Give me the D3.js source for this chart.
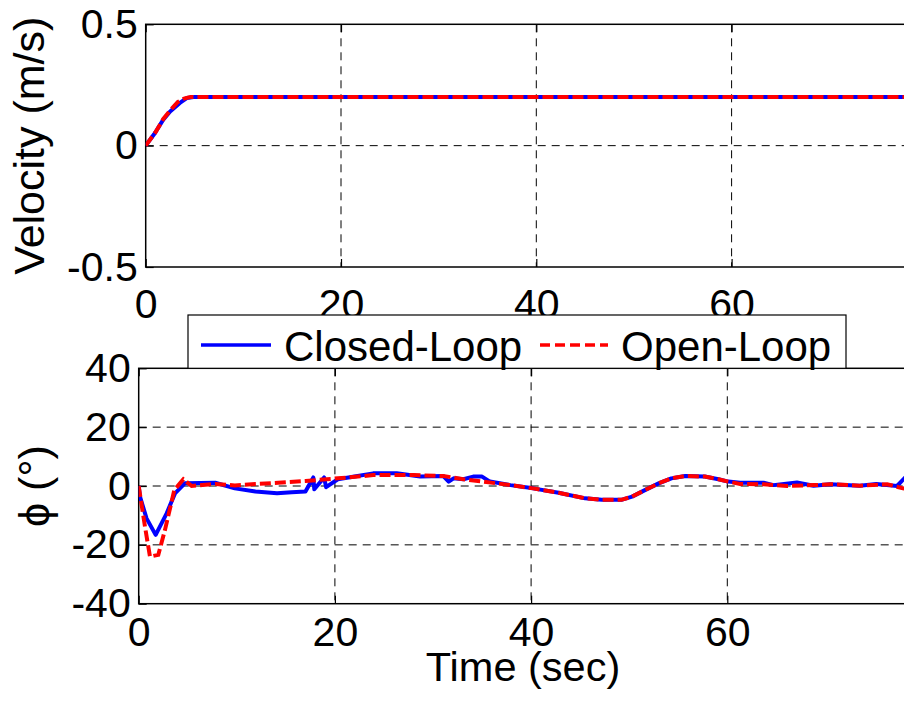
<!DOCTYPE html>
<html><head><meta charset="utf-8">
<script src="https://cdn.jsdelivr.net/npm/d3@7"></script>
<style>
body{margin:0;background:#fff}
text{font-family:"Liberation Sans",Arial,Helvetica,sans-serif;fill:#000}
</style>
</head><body>
<svg id="c" width="904" height="702"></svg>
<script>
// ---- data ----
const seriesNames = ["Closed-Loop", "Open-Loop"];
const xTicks = [0, 20, 40, 60];
const velTicks = [-0.5, 0, 0.5];
const phiTicks = [-40, -20, 0, 20, 40];

const velTimeClosed = [0, 0.95, 1.8, 2.5, 3.5, 4.2, 4.9, 80];
const velClosed     = [0, 0.052, 0.107, 0.141, 0.176, 0.196, 0.2, 0.2];
const velTimeOpen   = [0, 1.0, 1.8, 2.5, 3.3, 4.0, 4.6, 80];
const velOpen       = [0, 0.055, 0.11, 0.145, 0.18, 0.195, 0.2, 0.2];

const phiTimeClosed = [0, 0.13, 0.8, 1.73, 2.85, 3.7, 4.7, 7.8, 9.8, 11.9, 14.1, 15.6, 17.0, 17.8, 17.9, 18.9, 19.1, 20.3, 22.0, 23.9, 26.3, 28.7, 31.05, 31.6, 32.1, 33.1, 34.1, 35.0, 35.8, 37.9, 40.2, 42.8, 45.5, 47.2, 49.2, 50.3, 51.6, 53.0, 54.3, 55.7, 57.7, 59.1, 60.1, 61.3, 63.7, 64.7, 67.1, 68.8, 70.5, 73.5, 75.2, 77.3, 78.05, 79];
const phiClosed     = [0, -3.6, -11, -16.6, -9.3, -2.5, 0.9, 1.1, -0.8, -1.9, -2.5, -2.1, -1.9, 2.9, -1.1, 2.9, -0.4, 2.3, 3.2, 4.3, 4.3, 3.2, 3.4, 1.5, 2.6, 2.3, 3.2, 3.2, 1.5, 0.3, -0.8, -2.3, -4.2, -4.7, -4.7, -3.6, -1.4, 0.9, 2.6, 3.4, 3.2, 2.3, 1.5, 1.1, 1.1, 0.3, 1.2, 0.1, 0.6, 0.1, 0.7, 0, 2.6, 6];
const phiTimeOpen   = [0, 0.64, 1.15, 2.0, 2.68, 3.63, 4.55, 5.4, 7.8, 9.8, 11.9, 14.2, 17.0, 20.3, 23.9, 28.0, 31.05, 33.1, 35.1, 37.9, 40.2, 42.8, 45.5, 47.2, 49.2, 50.3, 51.6, 53.0, 54.3, 55.7, 57.7, 59.1, 60.1, 61.3, 63.7, 66.1, 68.8, 70.5, 73.5, 76.3, 77.9, 79];
const phiOpen       = [0, -13.8, -24, -23.4, -14.9, -1.4, 2.3, 0, 0.7, 0.2, 0.7, 1.1, 1.7, 2.6, 3.7, 3.7, 3.4, 2.3, 1.5, 0.3, -0.8, -2.3, -4.2, -4.7, -4.7, -3.6, -1.4, 0.9, 2.6, 3.4, 3.2, 2.3, 1.5, 0.7, 0.6, 0, 0.3, 0.6, 0.1, 0.6, -0.8, -1.2];

// ---- drawing ----
const svg = d3.select("#c");
svg.append("rect").attr("width", 904).attr("height", 702).attr("fill", "#fff");
const FS = 41;
const blue = "#0000ff", red = "#ff0000";

function panel(o) {
  const x = d3.scaleLinear().domain([0, 80]).range([o.left, o.left + 80 * o.kx]);
  const y = d3.scaleLinear().domain(o.ydom).range([o.bottom, o.top]);
  const g = svg.append("g");
  // grid
  g.selectAll(".gx").data(xTicks.filter(d => d > 0)).join("line")
    .attr("x1", d => x(d)).attr("x2", d => x(d)).attr("y1", o.top).attr("y2", o.bottom)
    .attr("stroke", "#000").attr("stroke-width", 1).attr("stroke-dasharray", "8,6");
  g.selectAll(".gy").data(o.yticks.filter(d => d > o.ydom[0] && d < o.ydom[1])).join("line")
    .attr("x1", o.left).attr("x2", x(80)).attr("y1", d => y(d)).attr("y2", d => y(d))
    .attr("stroke", "#000").attr("stroke-width", 1).attr("stroke-dasharray", "8,6");
  // axes (inward ticks)
  const ax = g.append("g").attr("transform", `translate(0,${o.bottom})`)
    .call(d3.axisBottom(x).tickValues(xTicks).tickSizeInner(-8).tickSizeOuter(0).tickPadding(o.xpad).tickFormat(d3.format("d")));
  const axT = g.append("g").attr("transform", `translate(0,${o.top})`)
    .call(d3.axisTop(x).tickValues(xTicks).tickSizeInner(-8).tickSizeOuter(0).tickFormat(""));
  const ay = g.append("g").attr("transform", `translate(${o.left},0)`)
    .call(d3.axisLeft(y).tickValues(o.yticks).tickSizeInner(-8).tickSizeOuter(0).tickPadding(8).tickFormat(o.yfmt));
  [ax, axT, ay].forEach(a => {
    a.select(".domain").remove();
    a.selectAll("line").attr("stroke", "#000").attr("stroke-width", 1.2);
    a.selectAll("text").style("font-size", FS + "px").attr("fill", "#000")
      .style("font-family", '"Liberation Sans",Arial,sans-serif');
  });
  // frame
  g.append("rect").attr("x", o.left).attr("y", o.top)
    .attr("width", x(80) - o.left).attr("height", o.bottom - o.top)
    .attr("fill", "none").attr("stroke", "#000").attr("stroke-width", 1.5);
  // lines
  const clipId = "clip" + o.id;
  svg.append("clipPath").attr("id", clipId).append("rect")
    .attr("x", o.left).attr("y", o.top).attr("width", 904 - o.left).attr("height", o.bottom - o.top);
  const line = d3.line().x(d => x(d[0])).y(d => y(d[1]));
  const lg = g.append("g").attr("clip-path", `url(#${clipId})`);
  lg.append("path").datum(d3.zip(o.tc, o.vc)).attr("d", line)
    .attr("fill", "none").attr("stroke", blue).attr("stroke-width", 4).attr("stroke-linejoin", "round");
  lg.append("path").datum(d3.zip(o.to, o.vo)).attr("d", line)
    .attr("fill", "none").attr("stroke", red).attr("stroke-width", 4).attr("stroke-dasharray", "11,4");
  // ylabel
  svg.append("text").attr("transform", `translate(${o.ylx},${(o.top + o.bottom) / 2}) rotate(-90)`)
    .attr("text-anchor", "middle").style("font-size", "43px").text(o.ylabel);
  return {x, y};
}

const velFmt = d => d === 0 ? "0" : String(d).replace("−", "-");
panel({id: 1, left: 145.7, kx: 9.765, top: 24.3, bottom: 267, ydom: [-0.5, 0.5], yticks: velTicks,
  yfmt: velFmt, xpad: 22, tc: velTimeClosed, vc: velClosed, to: velTimeOpen, vo: velOpen,
  ylabel: "Velocity (m/s)", ylx: 44});
panel({id: 2, left: 138.7, kx: 9.81, top: 368.3, bottom: 603.7, ydom: [-40, 40], yticks: phiTicks,
  yfmt: d => String(d), xpad: 13, tc: phiTimeClosed, vc: phiClosed, to: phiTimeOpen, vo: phiOpen,
  ylabel: "ϕ (°)", ylx: 49});

// x label
svg.append("text").attr("x", 523).attr("y", 681).attr("text-anchor", "middle")
  .style("font-size", "41.5px").text("Time (sec)");

// legend
const leg = svg.append("g");
leg.append("rect").attr("x", 188).attr("y", 315).attr("width", 658).attr("height", 53.3)
  .attr("fill", "#fff").attr("stroke", "#000").attr("stroke-width", 1.2);
const legItems = [
  {name: seriesNames[0], color: blue, dash: null, x0: 201, x1: 271, tx: 284},
  {name: seriesNames[1], color: red, dash: "10,5", x0: 540, x1: 608, tx: 621}
];
legItems.forEach(it => {
  leg.append("line").attr("x1", it.x0).attr("x2", it.x1).attr("y1", 345).attr("y2", 345)
    .attr("stroke", it.color).attr("stroke-width", 3.5).attr("stroke-dasharray", it.dash);
  leg.append("text").attr("x", it.tx).attr("y", 361).style("font-size", "42px").text(it.name);
});
</script>
</body></html>
